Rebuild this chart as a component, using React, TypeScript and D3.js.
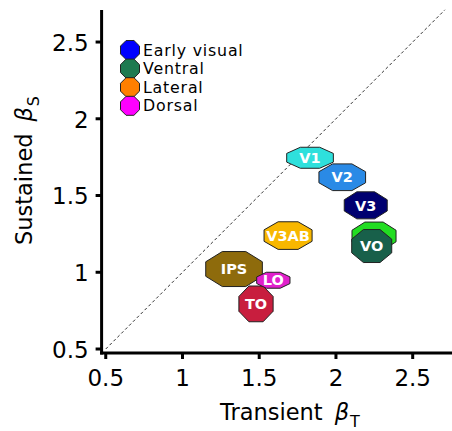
import React from "react";
import * as d3 from "d3";

// Region names, positions (transient, sustained) and marker extents (data units)
const regions = ["V1", "V2", "V3", "hV4", "VO", "V3AB", "IPS", "TO", "LO"];
const transient = [1.831, 2.041, 2.194, 2.248, 2.233, 1.688, 1.336, 1.479, 1.592];
const sustained = [1.746, 1.619, 1.436, 1.236, 1.171, 1.239, 1.021, 0.794, 0.948];
const spreadT = [0.304, 0.304, 0.28, 0.287, 0.261, 0.313, 0.369, 0.223, 0.217];
const spreadS = [0.137, 0.174, 0.176, 0.182, 0.215, 0.18, 0.228, 0.233, 0.104];
const fills = ["#2ee0dc", "#2a8ae6", "#000070", "#22dd22", "#18604a", "#f8b700", "#8e6b0c", "#c81e3e", "#e020cc"];
const showLabel = [true, true, true, false, true, true, true, true, true];

const groups = ["Early visual", "Ventral", "Lateral", "Dorsal"];
const groupColors = ["#0000ff", "#1e7a50", "#ff7f00", "#ff00ff"];

const xTicks = [0.5, 1, 1.5, 2, 2.5];
const yTicks = [0.5, 1, 1.5, 2, 2.5];

const W = 452;
const H = 431;

const x = d3.scaleLinear().domain([0.473, 2.76]).range([101.6, 452.6]);
const y = d3.scaleLinear().domain([0.474, 2.71]).range([353, 9.8]);

// Flat-topped octagon fitted in a w x h box
function octagon(cx: number, cy: number, w: number, h: number): string {
  const c = Math.cos(Math.PI / 8);
  const rx = w / 2 / c;
  const ry = h / 2 / c;
  const pts: [number, number][] = d3.range(8).map((k) => {
    const a = Math.PI / 8 + (k * Math.PI) / 4;
    return [cx + rx * Math.cos(a), cy + ry * Math.sin(a)];
  });
  return d3.line()(pts) + "Z";
}

const font = "'DejaVu Sans', sans-serif";

export default function App() {
  const axisX = x(0.473);
  const axisY = y(0.474);
  const diag = d3.line()([
    [x(0.5), y(0.5)],
    [x(2.71), y(2.71)],
  ]);
  const unit = x(1) - x(0);
  const order = [0, 1, 2, 3, 4, 5, 6, 7, 8];

  return (
    <div style={{ position: "fixed", left: 0, top: 0, width: W, height: H, background: "#fff" }}>
      <svg width={W} height={H} style={{ display: "block" }} fontFamily={font}>
        <rect width={W} height={H} fill="#fff" />
        <path d={diag ?? ""} stroke="#333" strokeWidth={1} strokeDasharray="3,2.5" fill="none" />

        {order.map((i) => (
          <path
            key={regions[i]}
            d={octagon(x(transient[i]), y(sustained[i]), spreadT[i] * unit, spreadS[i] * unit)}
            fill={fills[i]}
            stroke="#222"
            strokeWidth={1}
          />
        ))}
        {order.map((i) =>
          showLabel[i] ? (
            <text
              key={"l" + regions[i]}
              x={x(transient[i])}
              y={y(sustained[i])}
              dy="0.36em"
              textAnchor="middle"
              fill="#fff"
              fontWeight="bold"
              fontSize={14.5}
            >
              {regions[i]}
            </text>
          ) : null
        )}

        {/* axes */}
        <line x1={axisX} x2={axisX} y1={10} y2={axisY + 1.5} stroke="#000" strokeWidth={3} />
        <line x1={axisX - 1.5} x2={W} y1={axisY} y2={axisY} stroke="#000" strokeWidth={3} />
        {xTicks.map((t) => (
          <g key={"xt" + t}>
            <line x1={x(t)} x2={x(t)} y1={axisY} y2={axisY + 6} stroke="#000" strokeWidth={3} />
            <text x={x(t)} y={axisY + 33} textAnchor="middle" fontSize={23} fill="#000">
              {t}
            </text>
          </g>
        ))}
        {yTicks.map((t) => (
          <g key={"yt" + t}>
            <line x1={axisX - 6} x2={axisX} y1={y(t)} y2={y(t)} stroke="#000" strokeWidth={3} />
            <text x={axisX - 13} y={y(t)} dy="0.38em" textAnchor="end" fontSize={23} fill="#000">
              {t}
            </text>
          </g>
        ))}

        {/* axis titles */}
        <text x={220} y={420} fontSize={22.5} fill="#000">
          Transient
          <tspan fontStyle="italic" dx={12}>β</tspan>
          <tspan fontSize={16} dy={7} dx={1}>T</tspan>
        </text>
        <text transform="translate(32,245) rotate(-90)" fontSize={22.5} fill="#000">
          Sustained
          <tspan fontStyle="italic" dx={12}>β</tspan>
          <tspan fontSize={16} dy={7} dx={1}>S</tspan>
        </text>

        {/* legend */}
        {groups.map((g, i) => (
          <g key={g}>
            <path d={octagon(130, 50 + i * 18.6, 19, 19)} fill={groupColors[i]} stroke="#222" strokeWidth={1} />
            <text x={143} y={50 + i * 18.6} dy="0.36em" fontSize={15.8} letterSpacing={0.8} fill="#000">
              {g}
            </text>
          </g>
        ))}
      </svg>
    </div>
  );
}
